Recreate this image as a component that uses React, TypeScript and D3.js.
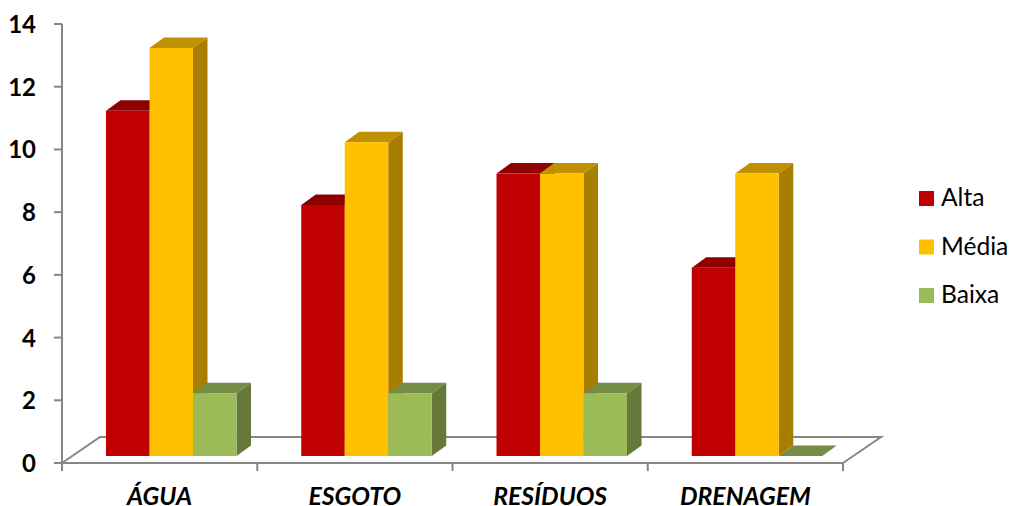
import React from "react";
import * as d3 from "d3";

const categories = ["ÁGUA", "ESGOTO", "RESÍDUOS", "DRENAGEM"];
const seriesNames = ["Alta", "Média", "Baixa"];
const alta = [11, 8, 9, 6];
const media = [13, 10, 9, 9];
const baixa = [2, 2, 2, 0];
const yTicks = [0, 2, 4, 6, 8, 10, 12, 14];
const frontColors = ["#c00000", "#ffc000", "#9bbb59"];
const topColors = ["#8f0000", "#bf9000", "#748c43"];
const sideColors = ["#8f0000", "#a87e00", "#66793a"];

const W = 1011, H = 506;
const axisColor = "#868686";
const font = "Lato, Carlito, Calibri, sans-serif";

export default function App() {
  const seriesValues = [alta, media, baixa];
  const yAxis = d3.scaleLinear().domain([0, 14]).range([463, 24]);
  const x = d3.scaleBand().domain(categories).range([62, 843]);
  const bar = d3.scaleBand().domain(seriesNames).range([44, 44 + 130.5]);
  const floorY = 456;
  const yBar = d3.scaleLinear().domain([0, 13]).range([floorY, 48]);
  const dx = 14.5, dy = -10.5;
  const floorDx = 38, floorDy = -26;
  const poly = d3.line();

  const ticksX = [...categories.map((c) => x(c)!), 843];

  return (
    <svg width={W} height={H} viewBox={`0 0 ${W} ${H}`} style={{ position: "absolute", left: 0, top: 0 }}>
      <rect width={W} height={H} fill="#fff" />
      <path
        d={poly([[62, 463], [62 + floorDx, 463 + floorDy], [843 + floorDx, 463 + floorDy], [843, 463]]) || ""}
        fill="none" stroke={axisColor} strokeWidth={2}
      />
      <line x1={62} x2={62} y1={yAxis(14)} y2={463} stroke={axisColor} strokeWidth={2} />
      <line x1={54} x2={843} y1={463} y2={463} stroke={axisColor} strokeWidth={2} />
      {yTicks.map((t) => (
        <g key={t}>
          <line x1={54} x2={62} y1={yAxis(t)} y2={yAxis(t)} stroke={axisColor} strokeWidth={2} />
          <text x={36} y={yAxis(t) + 9} textAnchor="end" fontFamily={font} fontWeight={700} fontSize={24} fill="#000">{t}</text>
        </g>
      ))}
      {ticksX.map((tx) => (
        <line key={tx} x1={tx} x2={tx} y1={463} y2={471} stroke={axisColor} strokeWidth={2} />
      ))}
      {categories.map((c, i) => (
        <g key={c}>
          {seriesNames.map((s, k) => {
            const x0 = x(c)! + bar(s)!;
            const x1 = x0 + bar.bandwidth();
            const yt = yBar(seriesValues[k][i]);
            return (
              <g key={s}>
                <path d={(poly([[x1, yt], [x1 + dx, yt + dy], [x1 + dx, floorY + dy], [x1, floorY]]) || "") + "Z"} fill={sideColors[k]} />
                <path d={(poly([[x0, yt], [x0 + dx, yt + dy], [x1 + dx, yt + dy], [x1, yt]]) || "") + "Z"} fill={topColors[k]} />
                <rect x={x0} y={yt} width={bar.bandwidth()} height={floorY - yt} fill={frontColors[k]} />
              </g>
            );
          })}
          <text x={x(c)! + x.bandwidth() / 2} y={500} dy={5} textAnchor="middle" fontFamily={font} fontWeight={700} fontStyle="italic" fontSize={24.8} fill="#000">{c}</text>
        </g>
      ))}
      {seriesNames.map((s, k) => (
        <g key={s}>
          <rect x={919} y={191 + k * 48.5} width={15} height={15} fill={frontColors[k]} />
          <text x={941} y={206 + k * 48.5} fontFamily={font} fontSize={24.6} fill="#000">{s}</text>
        </g>
      ))}
    </svg>
  );
}
